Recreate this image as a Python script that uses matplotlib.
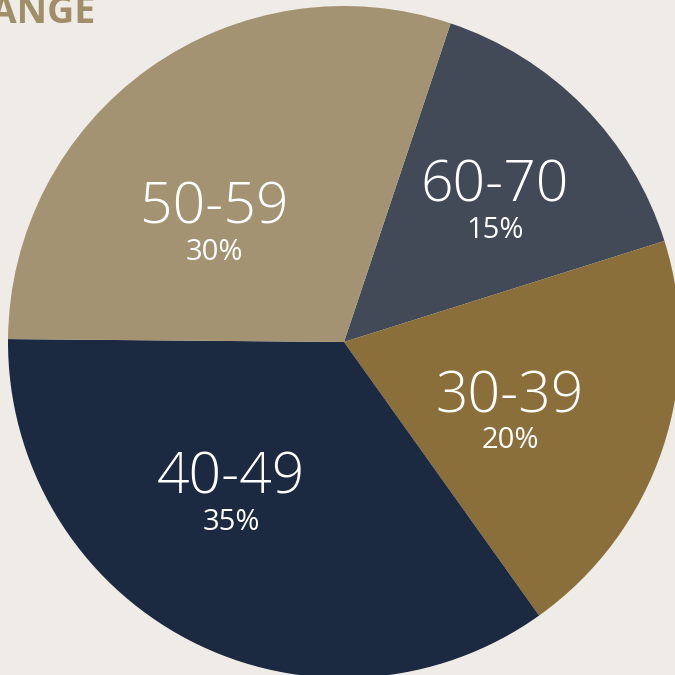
import matplotlib.pyplot as plt

labels = ['60-70', '30-39', '40-49', '50-59']
shares = [15, 20, 35, 30]
colors = ['#424957', '#8a6f3b', '#1b2a41', '#a39372']
# where each label sits (pixels from top-left)
label_pos = [(495, 187), (510, 398), (231, 479), (214, 209)]

fig = plt.figure(figsize=(6.75, 6.75), dpi=100)
fig.patch.set_facecolor('#efece7')
ax = fig.add_axes([0, 0, 1, 1])
ax.set_facecolor('#efece7')

ax.pie(shares, colors=colors, startangle=71.5, counterclock=False,
       center=(344, 675 - 342), radius=336, frame=True,
       wedgeprops=dict(linewidth=0))
ax.set_xlim(0, 675)
ax.set_ylim(0, 675)
ax.set_aspect('equal')
ax.axis('off')

for lab, pct, (x, y) in zip(labels, shares, label_pos):
    ax.text(x, 675 - y, lab, color='white', fontsize=41, family='Open Sans',
            fontweight='light', ha='center', va='center')
    ax.text(x, 675 - y - 43, f'{pct}%', color='white', fontsize=21,
            family='Open Sans', ha='center', va='center')

fig.text(95 / 675, 1 - 23 / 675, 'AGE RANGE', color='#a08e68', fontsize=27,
         family='Open Sans', fontweight='bold', ha='right', va='baseline')

fig.savefig('out.png', dpi=100, facecolor=fig.get_facecolor())
